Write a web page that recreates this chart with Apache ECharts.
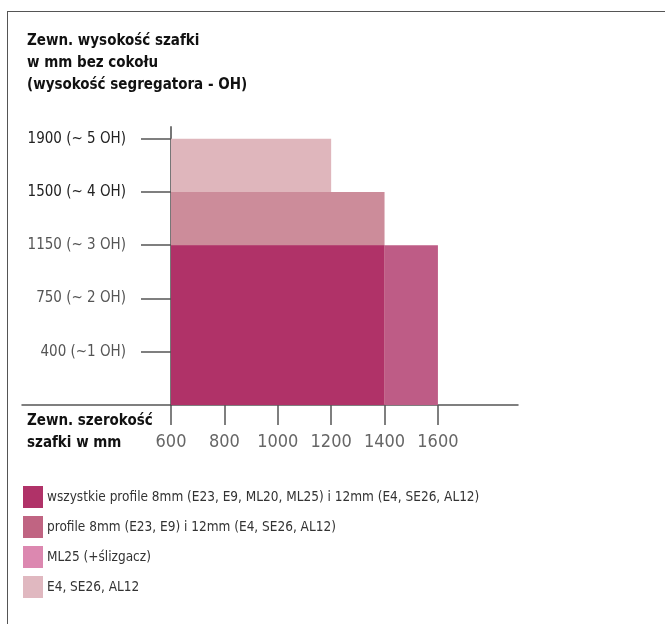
<!DOCTYPE html>
<html>
<head>
<meta charset="utf-8">
<script src="https://cdn.jsdelivr.net/npm/echarts@6/dist/echarts.min.js"></script>
<style>
  html, body { margin: 0; padding: 0; background: #fff; overflow: hidden; }
  #frame {
    position: absolute; left: 7px; top: 11px; width: 700px; height: 700px;
    border-top: 1px solid #555; border-left: 1px solid #555;
  }
  #chart { position: absolute; left: 0; top: 0; width: 665px; height: 624px; }
</style>
</head>
<body>
<div id="frame"></div>
<div id="chart"></div>
<script>
const FONT = "'Liberation Sans Narrow', 'DejaVu Sans Condensed', 'Roboto Condensed', sans-serif";

// szerokość szafki (mm)
const widthTicks = [600, 800, 1000, 1200, 1400, 1600];
// wysokość: poziomy OH i opisy
const heightLevels = [1, 2, 3, 4, 5];
const heightLabels = ["400 (~1 OH)", "750 (~ 2 OH)", "1150 (~ 3 OH)", "1500 (~ 4 OH)", "1900 (~ 5 OH)"];

// [szerokość od, szerokość do, wysokość w OH]
const allProfiles = [[600, 1400, 3]];
const profiles8and12 = [[1400, 1600, 3]];
const ml25 = [[600, 1400, 4]];
const e4group = [[600, 1200, 5]];

const names = [
  "wszystkie profile 8mm (E23, E9, ML20, ML25) i 12mm (E4, SE26, AL12)",
  "profile 8mm (E23, E9) i 12mm (E4, SE26, AL12)",
  "ML25 (+ślizgacz)",
  "E4, SE26, AL12",
];
const fillColors = ["#b03268", "#be5c86", "#cc8c9a", "#dfb6bc"];
const legendColors = ["#b03268", "#c06482", "#dc88b0", "#e0b8c0"];

function renderRect(params, api) {
  let p0 = api.coord([api.value(0), api.value(2)]);
  let p1 = api.coord([api.value(1), 0]);
  return {
    type: "rect",
    shape: { x: p0[0], y: p0[1], width: p1[0] - p0[0], height: p1[1] - p0[1] },
    style: api.style(),
  };
}

function rectSeries(idx, data) {
  return {
    name: names[idx],
    type: "custom",
    xAxisIndex: 0,
    yAxisIndex: 0,
    renderItem: renderRect,
    encode: { x: [0, 1], y: 2 },
    itemStyle: { color: fillColors[idx] },
    data: data,
  };
}

let chart = echarts.init(document.getElementById("chart"));
const option = {
  animation: false,
  textStyle: { fontFamily: FONT },
  title: [
    {
      text: "Zewn. wysokość szafki\nw mm bez cokołu\n(wysokość segregatora - OH)",
      left: 27,
      top: 30,
      padding: 0,
      textStyle: { fontFamily: FONT, fontSize: 15, fontWeight: "bold", color: "#111", lineHeight: 22 },
    },
    {
      text: "Zewn. szerokość\nszafki w mm",
      left: 27,
      top: 410,
      padding: 0,
      textStyle: { fontFamily: FONT, fontSize: 15, fontWeight: "bold", color: "#111", lineHeight: 22 },
    },
  ],
  legend: {
    orient: "vertical",
    left: 23,
    top: 486,
    padding: 0,
    itemWidth: 20,
    itemHeight: 22,
    itemGap: 8,
    icon: "rect",
    textStyle: { fontFamily: FONT, fontSize: 13.5, color: "#333", padding: [0, 0, 0, -1] },
    selectedMode: false,
    data: names.map((n, i) => ({ name: n, itemStyle: { color: legendColors[i] } })),
  },
  grid: [
    { left: 171, right: 147, top: 127, bottom: 219 },
    { left: 22, width: 149, top: 127, bottom: 219 },
  ],
  xAxis: [
    {
      type: "value",
      gridIndex: 0,
      min: 600,
      max: 1900,
      splitLine: { show: false },
      axisLine: { show: true, lineStyle: { color: "#555", width: 1.5 } },
      axisTick: { show: true, length: 20, customValues: widthTicks, lineStyle: { color: "#555", width: 1.5 } },
      axisLabel: {
        customValues: widthTicks,
        margin: 28,
        fontSize: 18,
        color: "#666",
        fontFamily: FONT,
        formatter: (v) => String(v),
      },
    },
    {
      type: "value",
      gridIndex: 1,
      min: 0,
      max: 1,
      splitLine: { show: false },
      axisLine: { show: true, lineStyle: { color: "#555", width: 1.5 } },
      axisTick: { show: false },
      axisLabel: { show: false },
    },
  ],
  yAxis: [
    {
      type: "value",
      gridIndex: 0,
      min: 0,
      max: 5.22,
      splitLine: { show: false },
      axisLine: { show: true, lineStyle: { color: "#777", width: 2 } },
      axisTick: { show: true, length: 30, customValues: heightLevels, lineStyle: { color: "#555", width: 1.5 } },
      axisLabel: {
        customValues: heightLevels,
        margin: 45,
        fontSize: 15,
        fontFamily: FONT,
        color: (v) => (v >= 4 ? "#222" : "#555"),
        formatter: (v) => heightLabels[heightLevels.indexOf(Math.round(v))],
      },
    },
    { type: "value", gridIndex: 1, show: false },
  ],
  series: [
    rectSeries(3, e4group),
    rectSeries(2, ml25),
    rectSeries(0, allProfiles),
    rectSeries(1, profiles8and12),
  ],
};
chart.setOption(option);
</script>
</body>
</html>
